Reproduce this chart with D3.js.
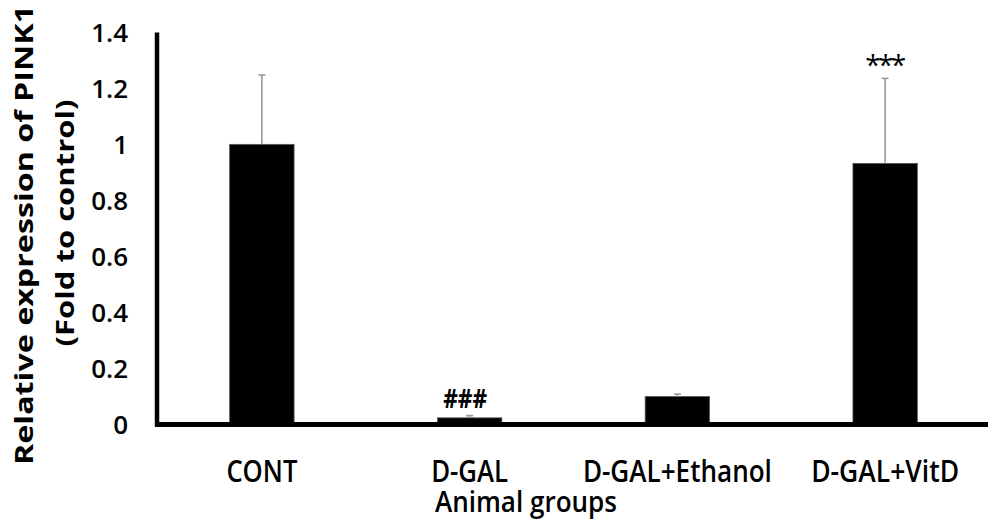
<!DOCTYPE html>
<html>
<head>
<meta charset="utf-8">
<script src="https://d3js.org/d3.v7.min.js"></script>
<style>
  html, body { margin: 0; padding: 0; background: #fff; }
  svg { display: block; }
  text { font-family: "Open Sans", "Liberation Sans", Arial, sans-serif; fill: #000; }
</style>
</head>
<body>
<svg id="chart" width="988" height="521"></svg>
<script>
// ---- data ----
const categories = ["CONT", "D-GAL", "D-GAL+Ethanol", "D-GAL+VitD"];
const means = [1.0, 0.022, 0.098, 0.932];
const errors = [0.248, 0.008, 0.009, 0.304];
const annotations = ["", "###", "", "***"];
const yTicks = [0, 0.2, 0.4, 0.6, 0.8, 1, 1.2, 1.4];
const yTitleLines = ["Relative expression of PINK1", "(Fold to control)"];
const xTitle = "Animal groups";

// ---- layout ----
const svg = d3.select("#chart");
const x0 = 158, x1 = 989, yBase = 424, yTop = 32.5;
const FONT = "Open Sans, Liberation Sans, Arial, sans-serif";

const y = d3.scaleLinear().domain([0, 1.4]).range([yBase, yTop]);
const x = d3.scaleBand().domain(categories).range([x0, x1])
  .paddingInner(0.69).paddingOuter(0.345);

// bars
svg.append("g").selectAll("rect").data(categories).join("rect")
  .attr("x", d => x(d))
  .attr("width", x.bandwidth())
  .attr("y", (d, i) => y(means[i]))
  .attr("height", (d, i) => yBase - y(means[i]))
  .attr("fill", "#000")
  .attr("stroke", "#555")
  .attr("stroke-width", 0.8);

// error bars
const eg = svg.append("g").attr("stroke", "#9a9a9a").attr("stroke-width", 1.6);
categories.forEach((c, i) => {
  const cx = x(c) + x.bandwidth() / 2;
  eg.append("line").attr("x1", cx).attr("x2", cx)
    .attr("y1", y(means[i])).attr("y2", y(means[i] + errors[i]));
  eg.append("line").attr("x1", cx - 3.5).attr("x2", cx + 3.5)
    .attr("y1", y(means[i] + errors[i])).attr("y2", y(means[i] + errors[i]));
});

// y axis
const yAxis = d3.axisLeft(y).tickValues(yTicks).tickSize(0).tickPadding(0)
  .tickFormat(d => d3.format("")(+d.toFixed(1)));
const ya = svg.append("g").attr("transform", `translate(128,0)`).call(yAxis);
ya.select(".domain").remove();
ya.selectAll("text").attr("font-size", 26).attr("fill", "#000").attr("font-weight", 600)
  .attr("font-family", FONT).attr("dy", "0.36em");

// axis lines
svg.append("line").attr("x1", 157).attr("x2", 157).attr("y1", y(1.4)).attr("y2", yBase + 2.5)
  .attr("stroke", "#000").attr("stroke-width", 4.5);
svg.append("line").attr("x1", 155).attr("x2", 988).attr("y1", yBase + 0.5).attr("y2", yBase + 0.5)
  .attr("stroke", "#000").attr("stroke-width", 5);

// x category labels
const catWidths = [71, 77, 189, 148];
const xAxis = d3.axisBottom(x).tickSize(0).tickPadding(0);
const xa = svg.append("g").attr("transform", `translate(0,482)`).call(xAxis);
xa.select(".domain").remove();
xa.selectAll("text")
  .attr("font-size", 30.5).attr("fill", "#000").attr("dy", 0).attr("y", 0)
  .attr("font-family", FONT).attr("font-weight", 600)
  .attr("textLength", (d, i) => catWidths[i])
  .attr("lengthAdjust", "spacingAndGlyphs");

// x title
svg.append("text").attr("x", 526).attr("y", 512)
  .attr("text-anchor", "middle").attr("font-size", 29.5).attr("font-weight", 600)
  .attr("textLength", 182).attr("lengthAdjust", "spacingAndGlyphs")
  .text(xTitle);

// y title
const yt = svg.append("g");
yt.append("text").attr("transform", "translate(33,235) rotate(-90)")
  .attr("text-anchor", "middle").attr("font-size", 25).attr("font-weight", "bold")
  .attr("textLength", 460).attr("lengthAdjust", "spacingAndGlyphs")
  .text(yTitleLines[0]);
yt.append("text").attr("transform", "translate(74,223) rotate(-90)")
  .attr("text-anchor", "middle").attr("font-size", 25).attr("font-weight", "bold")
  .attr("textLength", 247).attr("lengthAdjust", "spacingAndGlyphs")
  .text(yTitleLines[1]);

// annotations
categories.forEach((c, i) => {
  if (!annotations[i]) return;
  const cx = x(c) + x.bandwidth() / 2;
  if (annotations[i] === "###") {
    svg.append("text").attr("x", cx - 4.5).attr("y", 408)
      .attr("text-anchor", "middle").attr("font-size", 27).attr("font-weight", "bold")
      .attr("font-family", "Liberation Sans, Arial, sans-serif")
      .attr("textLength", 44).attr("lengthAdjust", "spacingAndGlyphs")
      .text(annotations[i]);
  } else {
    svg.append("text").attr("x", cx + 0.5).attr("y", y(means[i] + errors[i]) - 3)
      .attr("text-anchor", "middle").attr("font-size", 28).attr("fill", "#333")
      .attr("font-family", "Liberation Sans, Arial, sans-serif")
      .attr("textLength", 41).attr("lengthAdjust", "spacing")
      .text(annotations[i]);
  }
});
</script>
</body>
</html>
